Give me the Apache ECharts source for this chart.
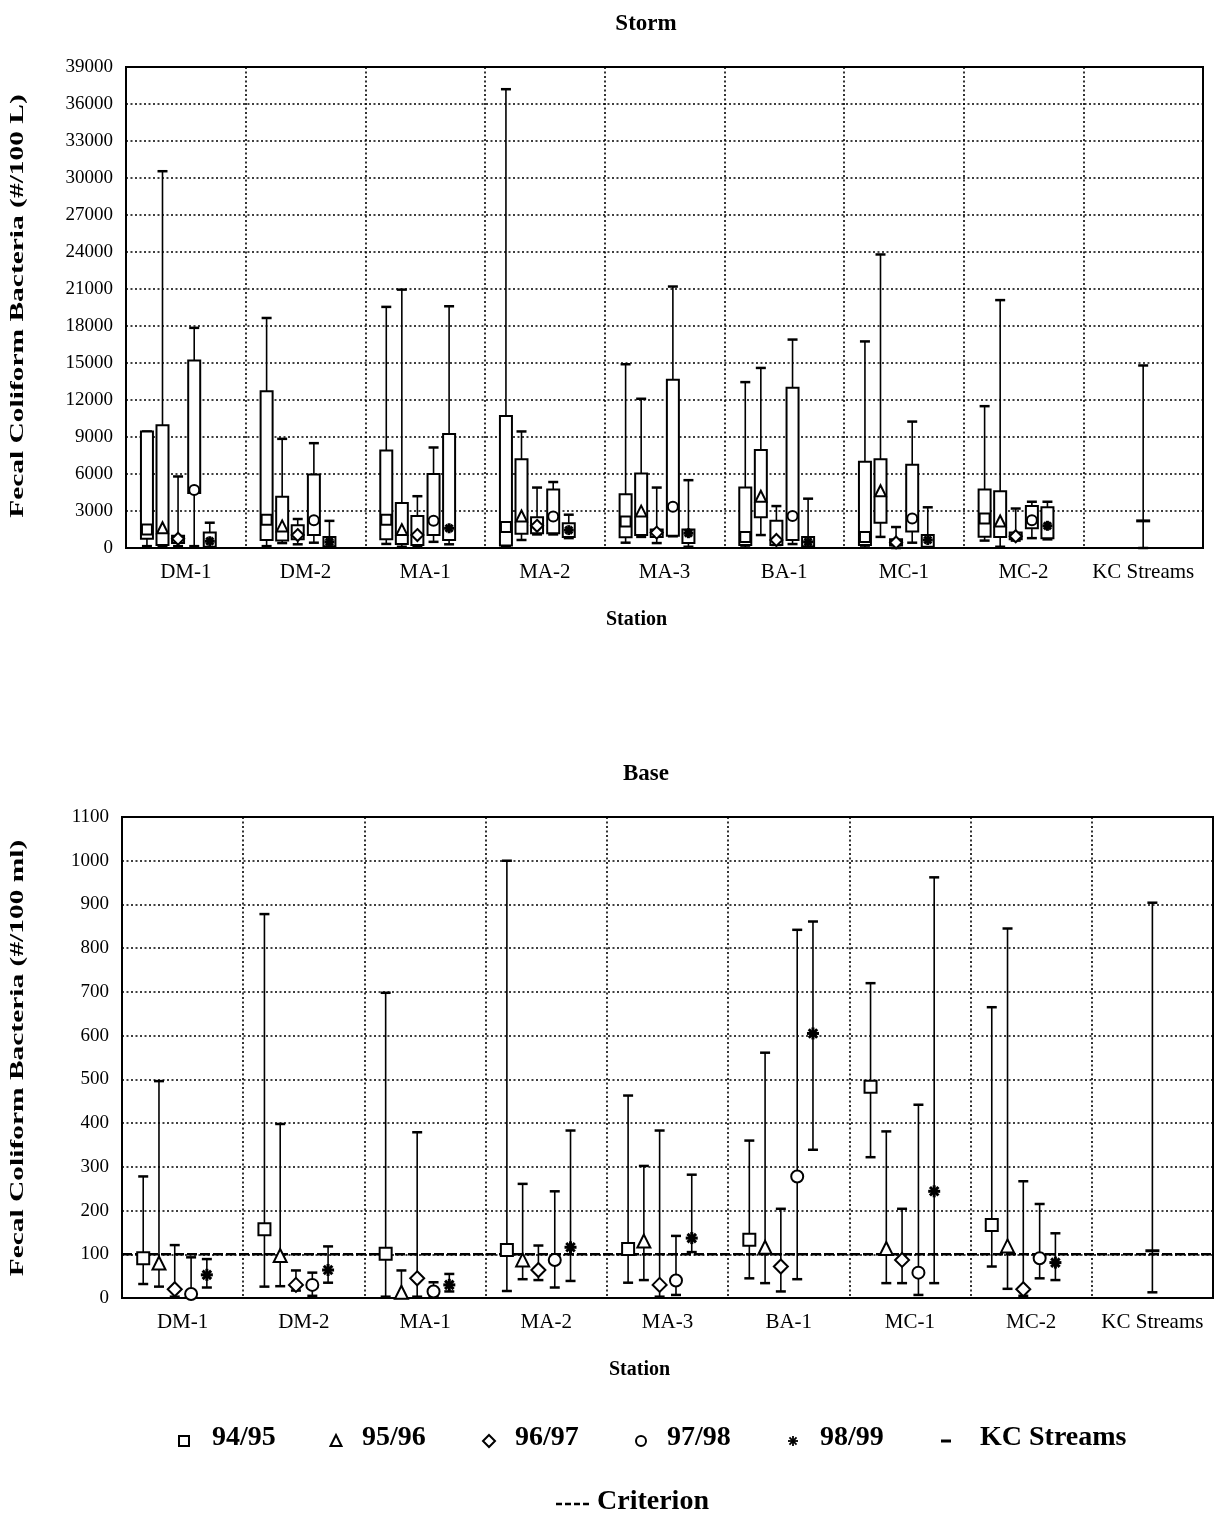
<!DOCTYPE html>
<html>
<head>
<meta charset="utf-8">
<script src="https://cdn.jsdelivr.net/npm/echarts@6/dist/echarts.min.js"></script>
<style>
  html, body { margin: 0; padding: 0; background: #fff; }
  #chart { width: 1222px; height: 1518px; }
</style>
</head>
<body>
<div id="chart"></div>
<script>
// Stations along the x axis
const stations = ['DM-1', 'DM-2', 'MA-1', 'MA-2', 'MA-3', 'BA-1', 'MC-1', 'MC-2', 'KC Streams'];
const seasons = ['94/95', '95/96', '96/97', '97/98', '98/99'];

// Storm samples, one row per station (DM-1 .. MC-2): [min, q1, median, q3, max]
const storm9495 = [[150, 750, 1500, 9450, 9450], [150, 650, 2300, 12700, 18650], [330, 700, 2300, 7900, 19550], [100, 200, 1700, 10700, 37200], [430, 870, 2150, 4350, 14900], [50, 250, 900, 4900, 13450], [50, 250, 900, 7000, 16750], [600, 920, 2400, 4750, 11500]];
const storm9596 = [[100, 250, 1600, 9950, 30550], [400, 600, 1750, 4150, 8850], [100, 330, 1450, 3650, 20950], [650, 1150, 2550, 7200, 9450], [900, 1050, 2950, 6050, 12100], [1050, 2500, 4150, 7950, 14600], [900, 2050, 4600, 7200, 23800], [100, 900, 2150, 4600, 20100]];
const storm9697 = [[150, 400, 750, 1000, 5800], [300, 700, 1050, 1850, 2350], [100, 250, 1050, 2600, 4200], [1100, 1200, 1800, 2500, 4900], [400, 900, 1250, 1500, 4900], [250, 250, 650, 2200, 3400], [0, 200, 450, 700, 1700], [600, 700, 950, 1250, 3200]];
const storm9798 = [[150, 4450, 4700, 15200, 17850], [430, 1050, 2250, 5950, 8500], [500, 1050, 2200, 6000, 8150], [1100, 1200, 2550, 4750, 5350], [950, 1000, 3350, 13650, 21200], [320, 650, 2600, 13000, 16900], [430, 1330, 2400, 6750, 10250], [800, 1600, 2250, 3400, 3750]];
const storm9899 = [[100, 100, 550, 1250, 2050], [100, 150, 500, 900, 2200], [300, 650, 1600, 9250, 19600], [800, 900, 1450, 2000, 2700], [100, 400, 1200, 1500, 5500], [100, 150, 500, 900, 4000], [50, 100, 650, 1050, 3300], [700, 800, 1800, 3300, 3750]];
// King County streams reference for storm flow: [min, median, max]
const kcStorm = [0, 2200, 14800];

// Base flow samples, one row per station (DM-1 .. MC-2): [min, median, max]
const base9495 = [[32, 91, 278], [26, 157, 878], [3, 101, 698], [16, 110, 1000], [35, 112, 463], [45, 133, 360], [322, 483, 720], [72, 167, 665]];
const base9596 = [[26, 79, 496], [27, 96, 398], [2, 12, 63], [43, 86, 261], [41, 129, 302], [34, 115, 561], [34, 112, 381], [21, 118, 845]];
const base9697 = [[3, 20, 121], [17, 30, 63], [3, 45, 379], [41, 64, 120], [3, 30, 383], [15, 72, 204], [34, 87, 204], [5, 20, 267]];
const base9798 = [[1, 9, 93], [5, 30, 58], [3, 15, 36], [24, 87, 244], [7, 40, 142], [43, 278, 842], [7, 58, 442], [45, 91, 215]];
const base9899 = [[24, 53, 89], [35, 64, 118], [15, 30, 55], [39, 116, 383], [105, 137, 282], [339, 605, 861], [34, 244, 962], [41, 81, 148]];
const kcBase = [13, 108, 904];
const criterion = 100;

// Axis ticks
const stormTicks = { min: 0, max: 39000, interval: 3000 };
const baseTicks = { min: 0, max: 1100, interval: 100 };

// Axis titles
const stormYName = 'Fecal Coliform Bacteria (#/100 L)';
const baseYName = 'Fecal Coliform Bacteria (#/100 ml)';

const stormBySeason = [storm9495, storm9596, storm9697, storm9798, storm9899];
const baseBySeason = [base9495, base9596, base9697, base9798, base9899];

const FONT = 'Liberation Serif';
const INK = '#000';
// Horizontal placement of each season inside a station band (fraction of band width)
const offsets = [-0.325, -0.195, -0.065, 0.07, 0.2];
const markerKinds = ['square', 'triangle', 'diamond', 'circle', 'asterisk'];

function seg(x1, y1, x2, y2, w) {
  return { type: 'line', shape: { x1, y1, x2, y2 }, style: { stroke: INK, lineWidth: w } };
}

function markerShape(kind, x, y, s, light) {
  const h = s / 2;
  const st = { fill: '#fff', stroke: INK, lineWidth: 2 };
  switch (kind) {
    case 'square':
      return { type: 'rect', shape: { x: x - h, y: y - h, width: s, height: s }, style: st };
    case 'triangle':
      return { type: 'polygon', shape: { points: [[x, y - h - 1], [x + h + 0.5, y + h], [x - h - 0.5, y + h]] }, style: st };
    case 'diamond':
      return { type: 'polygon', shape: { points: [[x, y - h - 1], [x + h + 1, y], [x, y + h + 1], [x - h - 1, y]] }, style: st };
    case 'circle':
      return { type: 'circle', shape: { cx: x, cy: y, r: h }, style: st };
    case 'asterisk': {
      const kids = [];
      for (let a = 0; a < 4; a++) {
        const ang = a * Math.PI / 4;
        const dx = Math.cos(ang) * h, dy = Math.sin(ang) * h;
        kids.push(seg(x - dx, y - dy, x + dx, y + dy, light ? 1.8 : 3));
      }
      if (!light) kids.push({ type: 'circle', shape: { cx: x, cy: y, r: h * 0.45 }, style: { fill: INK } });
      return { type: 'group', children: kids };
    }
    case 'dash':
      return seg(x - h, y, x + h, y, 3);
  }
}

// Box with whiskers for storm samples
function stormRender(k) {
  return function (params, api) {
    const cat = api.value(0);
    const band = api.size([1, 0])[0];
    const x = api.coord([cat, 0])[0] + offsets[k] * band;
    const py = i => api.coord([cat, api.value(i)])[1];
    const yMin = py(1), yQ1 = py(2), yMed = py(3), yQ3 = py(4), yMax = py(5);
    const cw = 5, bw = 6;
    return {
      type: 'group',
      children: [
        seg(x, yMax, x, yMin, 1.6),
        seg(x - cw, yMax, x + cw, yMax, 2.5),
        seg(x - cw, yMin, x + cw, yMin, 2.5),
        { type: 'rect', shape: { x: x - bw, y: yQ3, width: 2 * bw, height: Math.max(yQ1 - yQ3, 0) },
          style: { fill: '#fff', stroke: INK, lineWidth: 2 } },
        markerShape(markerKinds[k], x, yMed, 10)
      ]
    };
  };
}

// Range whiskers with median marker (base flow and KC streams)
function rangeRender(kind, offsetFrac, size) {
  return function (params, api) {
    const cat = api.value(0);
    const band = api.size([1, 0])[0];
    const x = api.coord([cat, 0])[0] + offsetFrac * band;
    const py = i => api.coord([cat, api.value(i)])[1];
    const yMin = py(1), yMed = py(2), yMax = py(3);
    const cw = 5;
    return {
      type: 'group',
      children: [
        seg(x, yMax, x, yMin, 1.6),
        seg(x - cw, yMax, x + cw, yMax, 2.5),
        seg(x - cw, yMin, x + cw, yMin, 2.5),
        markerShape(kind, x, yMed, size)
      ]
    };
  };
}

function criterionRender(params, api) {
  const cs = params.coordSys;
  const y = api.coord([0, api.value(1)])[1];
  return { type: 'line', shape: { x1: cs.x, y1: y, x2: cs.x + cs.width, y2: y },
           style: { stroke: INK, lineWidth: 2.5, lineDash: [10, 3] } };
}

const dotted = { color: INK, width: 1.6, type: [2, 2.5] };

function xAxisFor(gridIndex) {
  return {
    type: 'category', gridIndex, data: stations, boundaryGap: true,
    axisLine: { show: false }, axisTick: { show: false },
    splitLine: { show: true, lineStyle: dotted },
    axisLabel: { color: INK, fontFamily: FONT, fontSize: 21, margin: 14, interval: 0 },
    name: 'Station', nameLocation: 'middle', nameGap: 62,
    nameTextStyle: { color: INK, fontFamily: FONT, fontWeight: 'bold', fontSize: 20, padding: [0, 56, 0, 0] }
  };
}

function yAxisFor(gridIndex, ticks) {
  return {
    type: 'value', gridIndex, min: ticks.min, max: ticks.max, interval: ticks.interval,
    axisLine: { show: false }, axisTick: { show: false },
    splitLine: { show: true, lineStyle: dotted },
    axisLabel: { color: INK, fontFamily: FONT, fontSize: 19, margin: 13, formatter: v => String(v) }
  };
}

const series = [];
seasons.forEach((s, k) => {
  series.push({
    type: 'custom', name: s, xAxisIndex: 0, yAxisIndex: 0,
    renderItem: stormRender(k), encode: { x: 0, y: [1, 2, 3, 4, 5] },
    data: stormBySeason[k].map((r, i) => [i, ...r]), z: 3
  });
});
series.push({
  type: 'custom', name: 'KC Streams', xAxisIndex: 0, yAxisIndex: 0,
  renderItem: rangeRender('dash', 0, 14), encode: { x: 0, y: [1, 2, 3] },
  data: [[8, ...kcStorm]], z: 3
});
series.push({
  type: 'custom', name: 'Criterion', xAxisIndex: 1, yAxisIndex: 1,
  renderItem: criterionRender, encode: { x: 0, y: 1 },
  data: [[0, criterion]], z: 2
});
seasons.forEach((s, k) => {
  series.push({
    type: 'custom', name: s, xAxisIndex: 1, yAxisIndex: 1,
    renderItem: rangeRender(markerKinds[k], offsets[k], 12), encode: { x: 0, y: [1, 2, 3] },
    data: baseBySeason[k].map((r, i) => [i, ...r]), z: 3
  });
});
series.push({
  type: 'custom', name: 'KC Streams', xAxisIndex: 1, yAxisIndex: 1,
  renderItem: rangeRender('dash', 0, 14), encode: { x: 0, y: [1, 2, 3] },
  data: [[8, ...kcBase]], z: 3
});

const graphics = [];

// Vertical axis titles, set in a tall narrow serif
function yTitle(text, cx, cy) {
  return { type: 'text', x: cx, y: cy, rotation: Math.PI / 2, scaleX: 1.55, z: 10,
    style: { text, font: 'bold 19px "' + FONT + '"', fill: INK, align: 'center', verticalAlign: 'middle' } };
}
graphics.push(yTitle(stormYName, 18, 306));
graphics.push(yTitle(baseYName, 18, 1058));

// Legend rows under the lower panel
const legendY = 1441;
const legendItems = [
  { kind: 'square', mx: 184, tx: 212, label: '94/95' },
  { kind: 'triangle', mx: 336, tx: 362, label: '95/96' },
  { kind: 'diamond', mx: 489, tx: 515, label: '96/97' },
  { kind: 'circle', mx: 641, tx: 667, label: '97/98' },
  { kind: 'asterisk', mx: 793, tx: 820, label: '98/99' },
  { kind: 'dash', mx: 946, tx: 980, label: 'KC Streams' }
];
legendItems.forEach(it => {
  graphics.push(Object.assign(markerShape(it.kind, it.mx, legendY, 10, true), { z: 10 }));
  graphics.push({ type: 'text', left: it.tx, top: legendY - 17, z: 10,
    style: { text: it.label, font: 'bold 28px "' + FONT + '"', fill: INK } });
});
graphics.push({ type: 'line', z: 10, shape: { x1: 556, y1: 1504, x2: 590, y2: 1504 },
  style: { stroke: INK, lineWidth: 2.5, lineDash: [6, 3] } });
graphics.push({ type: 'text', left: 597, top: 1488, z: 10,
  style: { text: 'Criterion', font: 'bold 28px "' + FONT + '"', fill: INK } });

const option = {
  backgroundColor: '#fff',
  animation: false,
  title: [
    { text: 'Storm', left: 641, top: 8, textAlign: 'center',
      textStyle: { color: INK, fontFamily: FONT, fontWeight: 'bold', fontSize: 23 } },
    { text: 'Base', left: 641, top: 758, textAlign: 'center',
      textStyle: { color: INK, fontFamily: FONT, fontWeight: 'bold', fontSize: 23 } }
  ],
  grid: [
    { left: 126, top: 67, width: 1077, height: 481, show: true, borderColor: INK, borderWidth: 2, backgroundColor: 'transparent' },
    { left: 122, top: 817, width: 1091, height: 481, show: true, borderColor: INK, borderWidth: 2, backgroundColor: 'transparent' }
  ],
  xAxis: [xAxisFor(0), xAxisFor(1)],
  yAxis: [yAxisFor(0, stormTicks), yAxisFor(1, baseTicks)],
  series,
  graphic: graphics
};

const chart = echarts.init(document.getElementById('chart'), null, { renderer: 'canvas' });
chart.setOption(option);
</script>
</body>
</html>
